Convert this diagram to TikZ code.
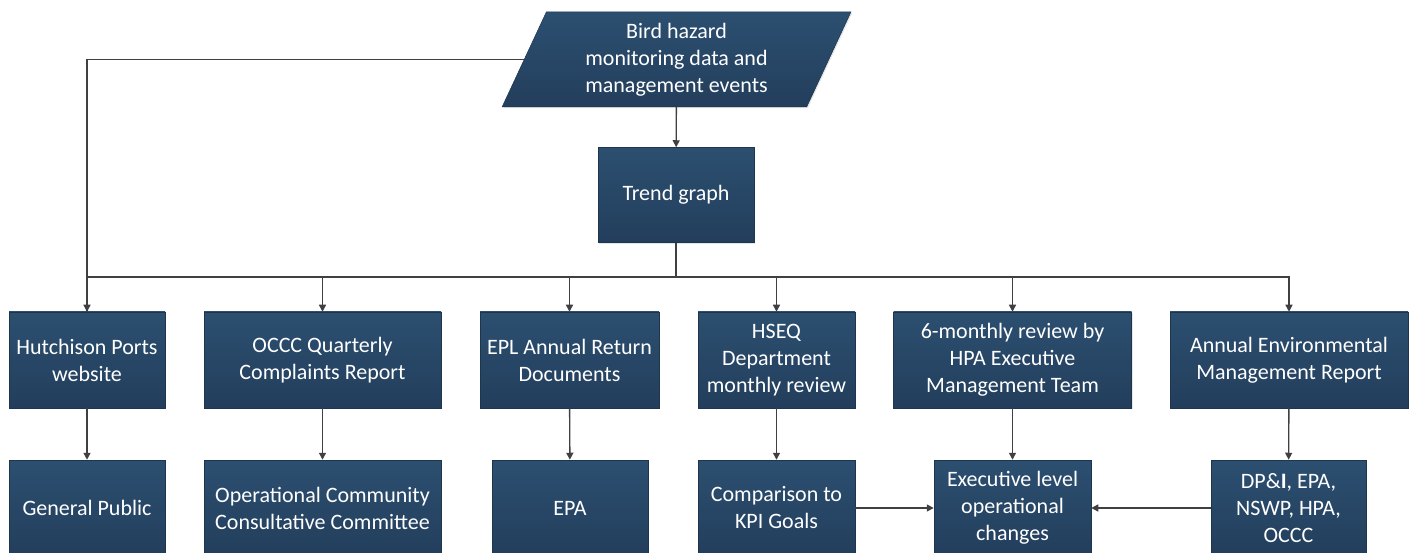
\documentclass[tikz,border=0pt]{standalone}
\usepackage{fontspec}
\setmainfont{Carlito}
\usetikzlibrary{shapes.geometric,shadows,arrows.meta}
\definecolor{boxtop}{RGB}{44,79,112}
\definecolor{boxbot}{RGB}{35,62,92}
\definecolor{linegray}{RGB}{64,64,64}

\begin{document}
\begin{tikzpicture}[x=1pt,y=-1pt,
  blok/.style={top color=boxtop, bottom color=boxbot, draw=boxbot!85!black, line width=0.5pt,
    text=white, align=center, inner sep=0pt, minimum height=96pt,
    font=\fontsize{22}{27}\selectfont,
    drop shadow={opacity=0.2, shadow xshift=1.2pt, shadow yshift=-1.2pt}},
  wire/.style={draw=linegray, line width=1.4pt},
  arr/.style={wire, -{Triangle[length=7pt,width=7pt]}}]
\useasboundingbox (0,0) rectangle (1414,553);

\node[blok, trapezium, trapezium left angle=67, trapezium right angle=113, trapezium stretches=true,
  minimum width=349pt, minimum height=95pt] (src) at (676.5,59.5) {Bird hazard\\monitoring data and\\management events};
\node[blok, minimum width=156pt, minimum height=95pt] (trend) at (676,195) {Trend graph};

\node[blok, minimum width=156pt] (web) at (87,360) {Hutchison Ports\\website};
\node[blok, minimum width=237pt] (occc) at (322.5,360) {OCCC Quarterly\\Complaints Report};
\node[blok, minimum width=179pt] (epl) at (569.5,360) {EPL Annual Return\\Documents};
\node[blok, minimum width=157pt] (hseq) at (776.5,360) {HSEQ\\Department\\monthly review};
\node[blok, minimum width=238pt] (hpa) at (1012.5,360) {6-monthly review by\\HPA Executive\\Management Team};
\node[blok, minimum width=238pt] (aemr) at (1289,360) {Annual Environmental\\Management Report};

\node[blok, minimum width=156pt] (public) at (87,508) {General Public};
\node[blok, minimum width=237pt] (community) at (322.5,508) {Operational Community\\Consultative Committee};
\node[blok, minimum width=156pt] (epa) at (570,508) {EPA};
\node[blok, minimum width=157pt] (kpi) at (776.5,508) {Comparison to\\KPI Goals};
\node[blok, minimum width=157pt] (exec) at (1012.5,508) {Executive level\\operational\\changes};
\node[blok, minimum width=155pt] (agencies) at (1288.5,508) {DP\&\textbf{I}, EPA,\\NSWP, HPA,\\OCCC};

\coordinate (bus) at (676,277);
\draw[arr] (src.left side) -| (web);
\draw[arr] (src) -- (trend);
\draw[wire] (trend) -- (bus);
\draw[arr] (bus) -| (occc);
\draw[arr] (bus) -| (epl);
\draw[arr] (bus) -| (hseq);
\draw[arr] (bus) -| (hpa);
\draw[arr] (bus) -| (aemr);
\draw[wire] (bus) -| (web.north);

\draw[arr] (web) -- (public);
\draw[arr] (occc) -- (community);
\draw[arr] (epl) -- (epa);
\draw[arr] (hseq) -- (kpi);
\draw[arr] (hpa) -- (exec);
\draw[arr] (aemr) -- (agencies);
\draw[arr] (kpi) -- (exec);
\draw[arr] (agencies) -- (exec);
\end{tikzpicture}
\end{document}
